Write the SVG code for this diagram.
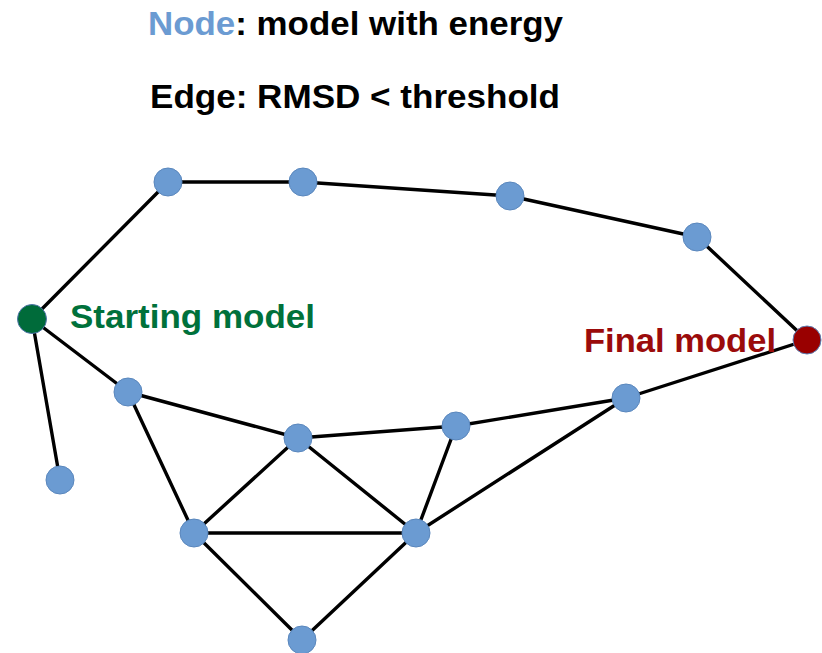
<svg xmlns="http://www.w3.org/2000/svg" width="822" height="653" viewBox="0 0 822 653">
  <style>
    .title { font-family: "Liberation Sans", Arial, sans-serif; font-weight: bold; font-size: 33px; fill: #000; }
    .label { font-family: "Liberation Sans", Arial, sans-serif; font-weight: bold; font-size: 33px; }
    .edge { stroke: #000; stroke-width: 3.4; fill: none; stroke-linecap: round; }
    .node { fill: #6b9bd2; stroke: #5a87bd; stroke-width: 1; }
  </style>
  <rect width="822" height="653" fill="#ffffff"/>

  <g id="legend">
    <text class="title" x="148" y="35" textLength="415" lengthAdjust="spacingAndGlyphs"><tspan fill="#6b9bd2">Node</tspan>: model with energy</text>
    <text class="title" x="150" y="108" textLength="410" lengthAdjust="spacingAndGlyphs">Edge: RMSD &lt; threshold</text>
  </g>

  <g id="connectors">
    <line class="edge" x1="32" y1="319" x2="168" y2="182"/>
    <line class="edge" x1="168" y1="182" x2="303" y2="182"/>
    <line class="edge" x1="303" y1="182" x2="510" y2="196"/>
    <line class="edge" x1="510" y1="196" x2="697" y2="237"/>
    <line class="edge" x1="697" y1="237" x2="807" y2="340"/>
    <line class="edge" x1="32" y1="319" x2="128" y2="392"/>
    <line class="edge" x1="32" y1="319" x2="60" y2="480"/>
    <line class="edge" x1="128" y1="392" x2="298" y2="438"/>
    <line class="edge" x1="128" y1="392" x2="194" y2="533"/>
    <line class="edge" x1="298" y1="438" x2="456" y2="426"/>
    <line class="edge" x1="456" y1="426" x2="626" y2="398"/>
    <line class="edge" x1="626" y1="398" x2="807" y2="340"/>
    <line class="edge" x1="298" y1="438" x2="194" y2="533"/>
    <line class="edge" x1="298" y1="438" x2="416" y2="533"/>
    <line class="edge" x1="194" y1="533" x2="416" y2="533"/>
    <line class="edge" x1="456" y1="426" x2="416" y2="533"/>
    <line class="edge" x1="416" y1="533" x2="626" y2="398"/>
    <line class="edge" x1="194" y1="533" x2="302" y2="640"/>
    <line class="edge" x1="416" y1="533" x2="302" y2="640"/>
  </g>

  <g id="node-start">
    <circle cx="32" cy="319" r="14.5" fill="#006b3a" stroke="#4f74a8" stroke-width="1"/>
    <text class="label" x="70" y="328" fill="#00713b" textLength="245" lengthAdjust="spacingAndGlyphs">Starting model</text>
  </g>
  <g id="node-final">
    <circle cx="807" cy="340" r="14" fill="#990000" stroke="#5a7fb5" stroke-width="1"/>
    <text class="label" x="584" y="352" fill="#9b0b0b" textLength="192" lengthAdjust="spacingAndGlyphs">Final model</text>
  </g>
  <g id="node-a"><circle class="node" cx="168" cy="182" r="14"/></g>
  <g id="node-b"><circle class="node" cx="303" cy="182" r="14"/></g>
  <g id="node-c"><circle class="node" cx="510" cy="196" r="14"/></g>
  <g id="node-d"><circle class="node" cx="697" cy="237" r="14"/></g>
  <g id="node-e"><circle class="node" cx="128" cy="392" r="14"/></g>
  <g id="node-f"><circle class="node" cx="60" cy="480" r="14"/></g>
  <g id="node-g"><circle class="node" cx="298" cy="438" r="14"/></g>
  <g id="node-h"><circle class="node" cx="456" cy="426" r="14"/></g>
  <g id="node-i"><circle class="node" cx="626" cy="398" r="14"/></g>
  <g id="node-j"><circle class="node" cx="194" cy="533" r="14"/></g>
  <g id="node-k"><circle class="node" cx="416" cy="533" r="14"/></g>
  <g id="node-l"><circle class="node" cx="302" cy="640" r="14"/></g>
</svg>
